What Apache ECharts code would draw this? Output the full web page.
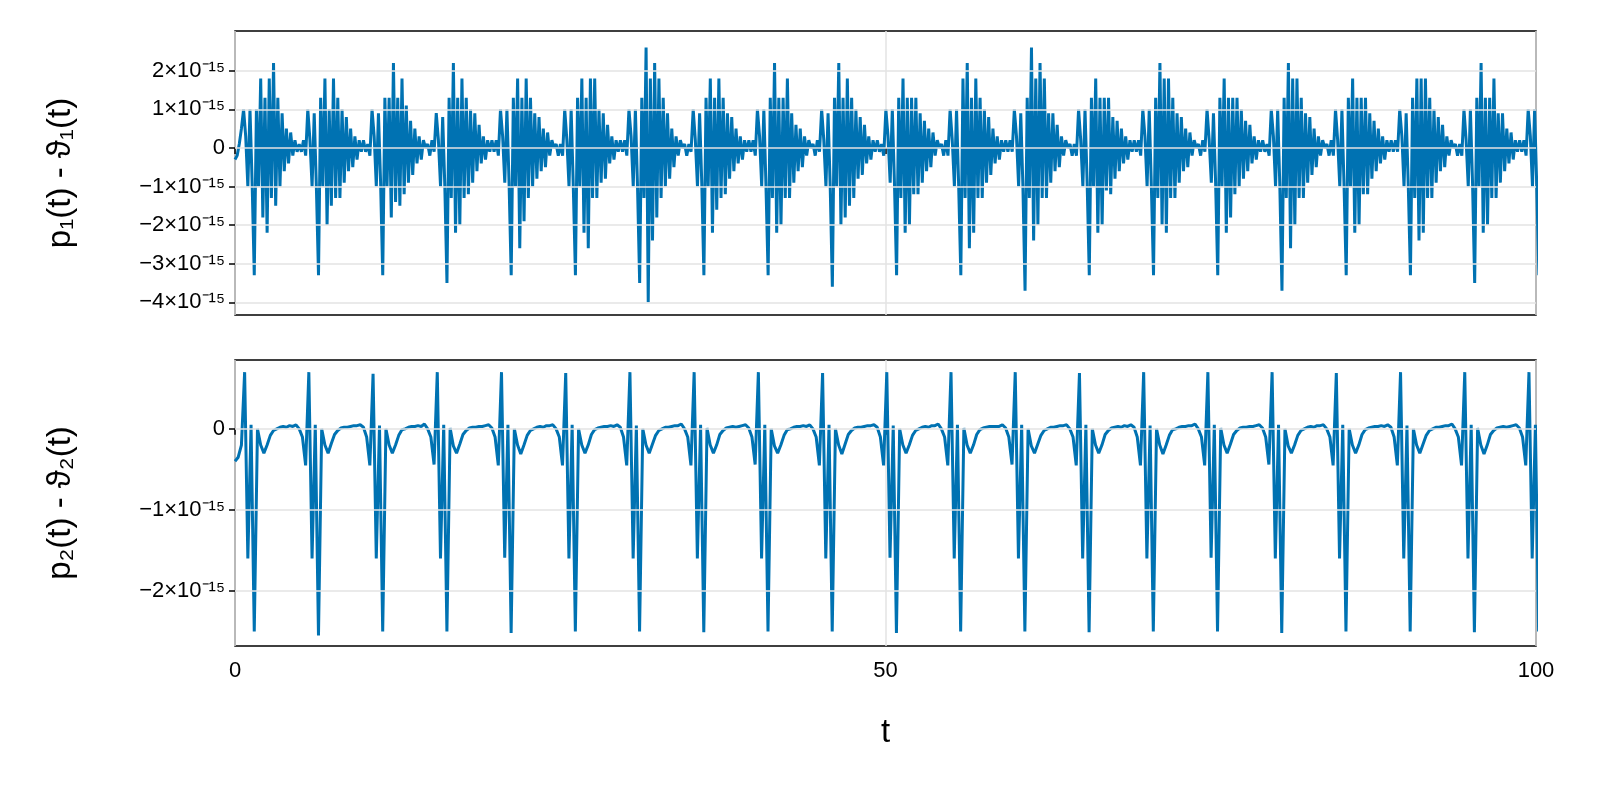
<!DOCTYPE html>
<html>
<head>
<meta charset="utf-8">
<script src="https://cdn.jsdelivr.net/npm/echarts@6/dist/echarts.min.js"></script>
<style>
  html, body { margin: 0; padding: 0; background: #fff; overflow: hidden; width: 100%; height: 100%; }
  #chart { width: 100vw; height: 100vh; }
</style>
</head>
<body>
<div id="chart"></div>
<script>
// sample spacing in t (one oscillation period ~ 4.937)
const DT_TOP = 0.16457
const DT_BOTTOM = 0.2468

// p1(t) - θ1(t), units of 1e-15, one row per period
const top1 = [
  [-0.3,-0.2,0.1,0.5,1.0,0.3,-1.0,1.0,-0.9,-3.3,1.0,-1.0,1.8,-1.8,1.3,-2.2,1.8,-1.3,2.2,-1.5,1.3,-1.0,0.9,-0.6,0.5,-0.4,0.4,-0.2,0.2,-0.1],
  [0.1,-0.1,0.2,-0.2,1.0,0.2,-1.0,0.9,-1.0,-3.3,1.3,-1.0,1.8,-2.0,1.0,-1.5,1.8,-1.3,1.3,-1.3,1.0,-0.9,0.8,-0.6,0.5,-0.5,0.3,-0.3,0.2,-0.1],
  [0.2,-0.1,0.1,-0.2,1.0,0.3,-1.0,0.9,-0.9,-3.3,1.3,-1.0,1.3,-1.8,2.2,-1.4,1.3,-1.5,1.8,-1.2,1.1,-0.9,0.7,-0.7,0.5,-0.4,0.3,-0.3,0.2,0.0],
  [0.1,-0.2,0.2,-0.1,0.9,0.2,-1.0,0.8,-1.0,-3.5,1.3,-1.3,2.2,-2.2,1.3,-2.0,1.8,-1.3,1.3,-1.2,1.0,-0.9,0.9,-0.6,0.6,-0.4,0.3,-0.3,0.2,-0.1],
  [0.2,-0.1,0.2,-0.2,1.0,0.3,-0.9,1.0,-0.9,-3.3,1.3,-1.0,1.8,-2.6,1.3,-1.9,1.8,-1.3,1.3,-1.0,0.9,-0.8,0.8,-0.6,0.5,-0.5,0.4,-0.2,0.2,0.0],
  [0.1,-0.2,0.1,-0.2,1.0,0.2,-1.0,1.0,-1.0,-3.3,1.3,-1.0,1.8,-2.2,1.3,-2.6,1.8,-1.3,1.8,-1.3,1.0,-0.9,0.9,-0.8,0.6,-0.4,0.3,-0.3,0.2,-0.1],
  [0.2,-0.1,0.2,-0.2,1.0,0.3,-1.0,1.0,-1.0,-3.5,1.3,-1.3,2.6,-4.0,1.8,-2.4,2.2,-1.8,1.8,-1.3,1.3,-1.0,0.9,-0.8,0.5,-0.5,0.3,-0.2,0.2,0.0],
  [0.1,-0.2,0.1,-0.1,1.0,0.2,-1.0,0.9,-0.9,-3.3,1.3,-1.0,1.8,-2.2,1.3,-1.6,1.8,-1.3,1.3,-1.2,0.9,-0.8,0.8,-0.6,0.5,-0.4,0.3,-0.3,0.2,-0.1],
  [0.2,-0.1,0.2,-0.2,1.0,0.3,-1.0,1.0,-1.0,-3.3,1.3,-1.3,2.2,-2.2,1.3,-2.0,1.3,-1.3,1.8,-1.3,0.9,-0.9,0.6,-0.6,0.5,-0.5,0.3,-0.2,0.2,0.0],
  [0.1,-0.2,0.2,-0.1,1.0,0.2,-1.0,0.9,-1.0,-3.6,1.3,-1.0,2.2,-2.0,1.3,-1.8,1.8,-1.5,1.3,-1.3,1.0,-0.8,0.8,-0.7,0.6,-0.4,0.3,-0.3,0.2,-0.1],
  [0.2,-0.1,0.1,-0.2,1.0,0.3,-0.9,1.0,-0.9,-3.3,1.3,-1.3,1.8,-2.2,1.3,-2.0,1.3,-1.2,1.3,-1.2,0.9,-0.9,0.7,-0.6,0.5,-0.5,0.4,-0.2,0.2,0.0],
  [0.1,-0.2,0.2,-0.2,1.0,0.2,-1.0,1.0,-1.0,-3.3,1.8,-1.3,2.2,-2.6,1.3,-2.2,1.8,-1.3,1.3,-1.3,1.0,-0.9,0.8,-0.7,0.5,-0.4,0.3,-0.3,0.2,-0.1],
  [0.2,-0.1,0.2,-0.1,1.0,0.3,-1.0,0.9,-1.0,-3.7,1.3,-1.3,2.6,-2.4,1.8,-2.0,2.2,-1.3,1.8,-1.3,0.9,-0.9,0.9,-0.6,0.6,-0.5,0.3,-0.2,0.2,0.0],
  [0.1,-0.2,0.1,-0.2,1.0,0.2,-1.0,1.0,-0.9,-3.3,1.3,-1.0,1.8,-2.2,1.3,-2.0,1.3,-1.1,1.3,-1.2,0.8,-0.8,0.7,-0.6,0.5,-0.4,0.3,-0.3,0.2,-0.1],
  [0.2,-0.1,0.2,-0.2,1.0,0.3,-1.0,1.0,-1.0,-3.3,1.3,-1.3,2.2,-2.0,1.8,-2.2,1.8,-1.3,1.3,-1.3,0.9,-0.9,0.8,-0.6,0.5,-0.5,0.4,-0.2,0.2,0.0],
  [0.1,-0.2,0.2,-0.1,1.0,0.2,-0.9,0.9,-0.9,-3.3,1.3,-1.0,1.8,-2.2,1.3,-1.8,1.3,-1.2,1.3,-1.0,1.0,-0.8,0.7,-0.6,0.6,-0.4,0.3,-0.3,0.2,-0.1],
  [0.2,-0.1,0.1,-0.2,1.0,0.3,-1.0,1.0,-1.0,-3.7,1.3,-1.3,2.2,-2.6,1.8,-2.0,1.8,-1.3,1.3,-1.3,0.9,-0.9,0.8,-0.7,0.5,-0.5,0.3,-0.2,0.2,0.0],
  [0.1,-0.2,0.2,-0.2,1.0,0.2,-1.0,1.0,-1.0,-3.3,1.3,-1.0,1.8,-2.2,1.3,-2.0,1.3,-1.2,1.3,-1.2,0.9,-0.8,0.7,-0.6,0.5,-0.4,0.3,-0.3,0.2,-0.1],
  [0.2,-0.1,0.2,-0.1,1.0,0.3,-1.0,0.9,-1.0,-3.3,1.3,-1.3,1.8,-2.4,1.8,-2.2,1.8,-1.3,1.3,-1.3,1.0,-0.9,0.8,-0.6,0.6,-0.5,0.3,-0.2,0.2,0.0],
  [0.1,-0.2,0.1,-0.2,1.0,0.2,-1.0,1.0,-0.9,-3.5,1.3,-1.0,2.2,-2.2,1.3,-2.0,1.3,-1.3,1.8,-1.3,0.9,-0.9,0.9,-0.6,0.5,-0.4,0.4,-0.3,0.2,-0.1],
  [0.2,-0.1,0.2,-0.2,1.0,0.3,-1.0,1.0,-1.0,-3.3,1.3,-1.3,1.8]
]

// p2(t) - θ2(t), units of 1e-15
const bottom2 = [
  [-0.4,-0.35,-0.2,0.7,-1.6,0.05,-2.5,0.0,-0.2,-0.3,-0.2,-0.08,-0.02,0.0,0.02,0.03,0.02,0.04,0.03,0.05],
  [0.0,-0.1,-0.45,0.7,-1.6,0.05,-2.55,0.0,-0.2,-0.3,-0.18,-0.07,-0.02,0.01,0.02,0.02,0.03,0.04,0.04,0.05],
  [0.02,-0.1,-0.45,0.68,-1.6,0.04,-2.5,0.0,-0.2,-0.3,-0.2,-0.08,-0.01,0.0,0.02,0.03,0.03,0.04,0.03,0.06],
  [0.0,-0.1,-0.44,0.7,-1.6,0.05,-2.5,0.01,-0.21,-0.3,-0.19,-0.07,-0.02,0.01,0.02,0.02,0.03,0.03,0.04,0.05],
  [0.01,-0.1,-0.45,0.7,-1.59,0.05,-2.52,0.0,-0.2,-0.31,-0.2,-0.08,-0.02,0.0,0.02,0.03,0.02,0.04,0.04,0.05],
  [0.0,-0.1,-0.45,0.69,-1.6,0.05,-2.5,0.0,-0.2,-0.3,-0.2,-0.07,-0.01,0.01,0.02,0.03,0.03,0.04,0.03,0.05],
  [0.02,-0.1,-0.45,0.7,-1.6,0.04,-2.5,0.0,-0.2,-0.3,-0.19,-0.08,-0.02,0.0,0.02,0.02,0.03,0.04,0.04,0.06],
  [0.0,-0.1,-0.45,0.7,-1.6,0.05,-2.51,0.01,-0.2,-0.3,-0.2,-0.07,-0.02,0.01,0.02,0.03,0.02,0.03,0.04,0.05],
  [0.01,-0.1,-0.44,0.7,-1.6,0.05,-2.5,0.0,-0.21,-0.3,-0.2,-0.08,-0.01,0.0,0.02,0.03,0.03,0.04,0.03,0.05],
  [0.0,-0.1,-0.45,0.69,-1.6,0.05,-2.5,0.0,-0.2,-0.31,-0.19,-0.07,-0.02,0.01,0.02,0.02,0.03,0.04,0.04,0.05],
  [0.02,-0.1,-0.45,0.7,-1.59,0.04,-2.52,0.0,-0.2,-0.3,-0.2,-0.08,-0.02,0.0,0.02,0.03,0.02,0.04,0.04,0.06],
  [0.0,-0.1,-0.45,0.7,-1.6,0.05,-2.5,0.01,-0.2,-0.3,-0.2,-0.07,-0.01,0.01,0.02,0.03,0.03,0.03,0.03,0.05],
  [0.01,-0.1,-0.44,0.7,-1.6,0.05,-2.5,0.0,-0.21,-0.3,-0.19,-0.08,-0.02,0.0,0.02,0.02,0.03,0.04,0.04,0.05],
  [0.0,-0.1,-0.45,0.69,-1.6,0.05,-2.51,0.0,-0.2,-0.3,-0.2,-0.07,-0.02,0.01,0.02,0.03,0.02,0.04,0.03,0.05],
  [0.02,-0.1,-0.45,0.7,-1.6,0.04,-2.5,0.0,-0.2,-0.31,-0.2,-0.08,-0.01,0.0,0.02,0.03,0.03,0.04,0.04,0.06],
  [0.0,-0.1,-0.45,0.7,-1.59,0.05,-2.5,0.01,-0.2,-0.3,-0.19,-0.07,-0.02,0.01,0.02,0.02,0.03,0.03,0.04,0.05],
  [0.01,-0.1,-0.44,0.7,-1.6,0.05,-2.52,0.0,-0.21,-0.3,-0.2,-0.08,-0.02,0.0,0.02,0.03,0.02,0.04,0.04,0.05],
  [0.0,-0.1,-0.45,0.69,-1.6,0.05,-2.5,0.0,-0.2,-0.3,-0.2,-0.07,-0.01,0.01,0.02,0.03,0.03,0.04,0.03,0.05],
  [0.02,-0.1,-0.45,0.7,-1.6,0.04,-2.5,0.0,-0.2,-0.3,-0.19,-0.08,-0.02,0.0,0.02,0.02,0.03,0.04,0.04,0.06],
  [0.0,-0.1,-0.45,0.7,-1.6,0.05,-2.51,0.01,-0.2,-0.31,-0.2,-0.07,-0.02,0.01,0.02,0.03,0.02,0.03,0.04,0.05],
  [0.01,-0.1,-0.45,0.7,-1.6,0.05,-2.5,0.0]
]

const yTicksTop = [2, 1, 0, -1, -2, -3, -4]
const yTicksBottom = [0, -1, -2]

const BLUE = '#0072b2'
const FONT = 'Liberation Sans'

function toPairs(rows, dt) {
  return rows.flat().map((v, i) => [i * dt, v])
}

function tickLabel(v) {
  if (v === 0) return '0'
  return (v < 0 ? '\u2212' + (-v) : '' + v) + '×10\u207b\u00b9\u2075'
}

function gridLines(ticks, idx) {
  return {
    type: 'line', xAxisIndex: idx, yAxisIndex: idx, data: [], z: 1, silent: true,
    markLine: {
      silent: true, symbol: 'none', label: { show: false },
      lineStyle: { color: '#e3e3e3', width: 1.5, type: 'solid' },
      data: ticks.map((v) => ({ yAxis: v })),
    },
  }
}

function yAxisOf(idx, min, max, ticks, name) {
  return {
    type: 'value', gridIndex: idx, min: min, max: max,
    name: name, nameLocation: 'middle', nameGap: 158,
    nameTextStyle: { fontSize: 33, fontFamily: FONT, color: '#000' },
    axisLine: { show: false },
    axisTick: { show: true, customValues: ticks, length: 6, lineStyle: { color: '#000', width: 1.5 } },
    axisLabel: { customValues: ticks, formatter: tickLabel, fontSize: 22, fontFamily: FONT, color: '#000', margin: 10 },
    splitLine: { show: false },
  }
}

function xAxisOf(idx, showLabels) {
  return {
    type: 'value', gridIndex: idx, min: 0, max: 100, interval: 50,
    name: showLabels ? 't' : '', nameLocation: 'middle', nameGap: 70,
    nameTextStyle: { fontSize: 33, fontFamily: FONT, color: '#000' },
    axisLine: { show: false },
    axisTick: { show: true, length: 6, lineStyle: { color: '#000', width: 1.5 } },
    axisLabel: { show: showLabels, fontSize: 22, fontFamily: FONT, color: '#000', margin: 14 },
    splitLine: { show: true, lineStyle: { color: '#e3e3e3', width: 1.5 } },
  }
}

const chart = echarts.init(document.getElementById('chart'))
chart.setOption({
  animation: false,
  backgroundColor: '#fff',
  grid: [
    { left: 235, right: 64, top: 31, height: 284, show: true, borderColor: '#000', borderWidth: 1.5, backgroundColor: 'transparent' },
    { left: 235, right: 64, top: 360, height: 286, show: true, borderColor: '#000', borderWidth: 1.5, backgroundColor: 'transparent' },
  ],
  xAxis: [xAxisOf(0, false), xAxisOf(1, true)],
  yAxis: [
    yAxisOf(0, -4.33, 3.03, yTicksTop, 'p\u2081(t) - \u03d1\u2081(t)'),
    yAxisOf(1, -2.68, 0.85, yTicksBottom, 'p\u2082(t) - \u03d1\u2082(t)'),
  ],
  series: [
    gridLines(yTicksTop, 0),
    gridLines(yTicksBottom, 1),
    {
      type: 'line', xAxisIndex: 0, yAxisIndex: 0, z: 3, showSymbol: false,
      data: toPairs(top1, DT_TOP), lineStyle: { color: BLUE, width: 3 }, clip: true,
    },
    {
      type: 'line', xAxisIndex: 1, yAxisIndex: 1, z: 3, showSymbol: false,
      data: toPairs(bottom2, DT_BOTTOM), lineStyle: { color: BLUE, width: 3 }, clip: true,
    },
  ],
})
</script>
</body>
</html>
